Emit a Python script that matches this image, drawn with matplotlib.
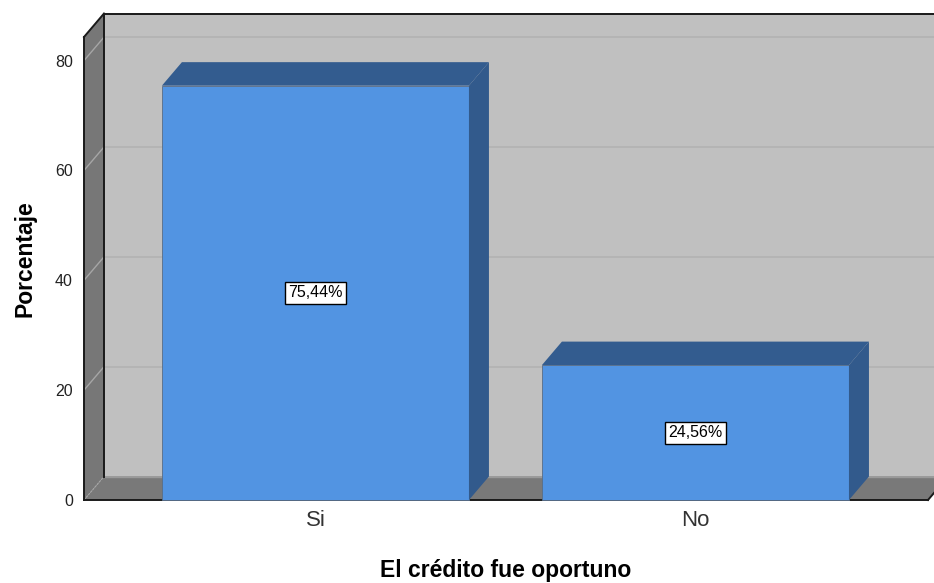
#!/usr/bin/env python3
import matplotlib
matplotlib.use("Agg")
import matplotlib.pyplot as plt
from matplotlib.patches import Polygon

# Data
categories = ["Si", "No"]
percentages = [75.44, 24.56]
value_labels = ["75,44%", "24,56%"]
y_ticks = [0, 20, 40, 60, 80]
x_title = "El crédito fue oportuno"
y_title = "Porcentaje"

# Colours (SPSS-like 3D style)
FRONT = "#5294e2"
TOP = "#335c8f"
SIDE = "#325a8c"
BACK_WALL = "#c0c0c0"
SIDE_WALL = "#777777"
FLOOR = "#797979"

plt.rcParams['font.family'] = ['Liberation Sans', 'DejaVu Sans']

fig = plt.figure(figsize=(9.34, 5.83), dpi=100)
W, H = 934, 583
# front plane of the plot box in pixels
left_px, right_px, bot_px, top_px = 84, 928, 500, 37
ax = fig.add_axes([left_px / W, 1 - bot_px / H,
                   (right_px - left_px) / W, (bot_px - top_px) / H])

x0, x1 = -0.609, 1.612
y0, y1 = 0, 84.3
ax.set_xlim(x0, x1)
ax.set_ylim(y0, y1)

# depth offset in data units (about 20 px right, 23.5 px up)
px_x = (x1 - x0) / (right_px - left_px)
px_y = (y1 - y0) / (bot_px - top_px)
dx = 20 * px_x
dy = 23.5 * px_y


def poly(pts, fc, ec="none", lw=0, z=1):
    p = Polygon(pts, closed=True, facecolor=fc, edgecolor=ec, linewidth=lw,
                clip_on=False, zorder=z, joinstyle="miter")
    ax.add_patch(p)


# back wall
poly([(x0 + dx, y0 + dy), (x1 + dx, y0 + dy), (x1 + dx, y1 + dy), (x0 + dx, y1 + dy)], BACK_WALL, z=0.5)
# floor
poly([(x0, y0), (x1, y0), (x1 + dx, y0 + dy), (x0 + dx, y0 + dy)], FLOOR, z=0.6)
# left wall
poly([(x0, y0), (x0 + dx, y0 + dy), (x0 + dx, y1 + dy), (x0, y1)], SIDE_WALL, z=0.6)

# grid lines on walls
for t in y_ticks[1:]:
    ax.plot([x0 + dx, x1 + dx], [t + dy, t + dy], color="#b2b2b2", lw=1.2, zorder=0.7, clip_on=False)
    ax.plot([x0, x0 + dx], [t, t + dy], color="#a6a6a6", lw=1.0, zorder=0.7, clip_on=False)
ax.plot([x0, x0 + dx], [0, dy], color="#a6a6a6", lw=0.8, ls=(0, (2, 1)), zorder=0.7, clip_on=False)
# light seam where the floor meets the back wall
ax.plot([x0 + dx, x1 + dx], [dy, dy], color="#9a9a9a", lw=1.0, zorder=0.65, clip_on=False)

# frame edges
k = dict(color="#1a1a1a", lw=1.4, zorder=0.8, clip_on=False, solid_capstyle="projecting")
ax.plot([x0 + dx, x1 + dx], [y1 + dy, y1 + dy], **k)
ax.plot([x0, x0 + dx], [y1, y1 + dy], **k)
ax.plot([x0 + dx, x0 + dx], [y0 + dy, y1 + dy], **k)
ax.plot([x0, x0], [y0, y1], **k)
ax.plot([x0, x1], [y0, y0], **k)
ax.plot([x1, x1 + dx], [y0, y0 + dy], **k)

# bars
bw = 0.808
for i, (v, lab) in enumerate(zip(percentages, value_labels)):
    a, b = i - bw / 2, i + bw / 2
    poly([(a, 0), (b, 0), (b, v), (a, v)], FRONT, ec="#5a6d85", lw=0.6, z=2)
    poly([(a, v), (b, v), (b + dx, v + dy), (a + dx, v + dy)], TOP, z=2)
    poly([(b, 0), (b + dx, dy), (b + dx, v + dy), (b, v)], SIDE, z=2)
    ax.text(i, v / 2, lab, ha="center", va="center", fontsize=11.5, color="black", zorder=3,
            bbox=dict(boxstyle="square,pad=0.22", facecolor="white", edgecolor="black", linewidth=1.0))

for s in ax.spines.values():
    s.set_visible(False)
ax.set_facecolor("none")

ax.set_yticks(y_ticks)
ax.set_yticklabels([str(t) for t in y_ticks], fontsize=11.5, color="#222222")
ax.tick_params(axis="y", length=0, pad=8)
ax.set_xticks(range(len(categories)))
ax.set_xticklabels(categories, fontsize=16, color="#333333")
ax.tick_params(axis="x", length=0, pad=7)

ax.set_xlabel(x_title, fontsize=16.5, fontweight="bold")
ax.xaxis.label.set_va("center")
ax.xaxis.set_label_coords(0.5, -(571 - bot_px) / (bot_px - top_px))
ax.set_ylabel(y_title, fontsize=16.5, fontweight="bold")
ax.yaxis.label.set_va("center")
ax.yaxis.set_label_coords((25 - left_px) / (right_px - left_px), (bot_px - 259) / (bot_px - top_px))

fig.savefig("out.png", dpi=100)
